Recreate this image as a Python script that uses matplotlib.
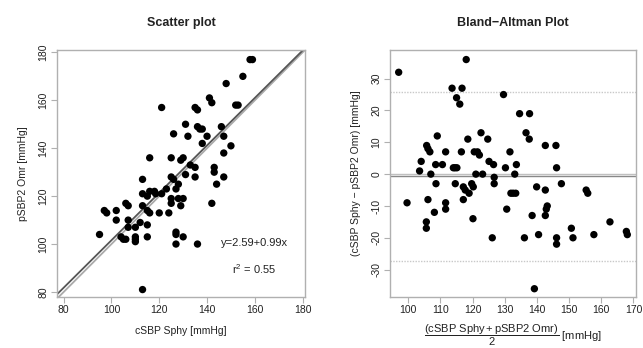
import matplotlib
matplotlib.use("Agg")
import matplotlib.pyplot as plt

plt.rcParams['font.family'] = ['Liberation Sans', 'DejaVu Sans']
plt.rcParams['mathtext.fontset'] = 'custom'
plt.rcParams['mathtext.rm'] = 'Liberation Sans'
plt.rcParams['mathtext.it'] = 'Liberation Sans:italic'
plt.rcParams['axes.unicode_minus'] = False

# ---- Scatter plot data (cSBP Sphy vs pSBP2 Omr) ----
csbp = [158, 159, 155, 148, 141, 142, 121, 135, 136, 152, 153, 131, 136, 137, 138, 146,
        126, 132, 140, 147, 138, 150, 147, 116, 125, 129, 130, 133, 135, 143, 143, 125,
        126, 135, 147, 113, 131, 128, 127, 144, 123, 113, 115, 116, 118, 118.5, 121,
        125, 125, 128, 130, 129, 142, 113, 97, 98, 102, 106, 107, 115, 116, 120, 124,
        102, 107, 107, 110, 112, 115, 95, 104, 105, 106, 110, 110, 110, 115, 127, 127,
        127, 130, 136, 113]
psbp = [177, 177, 170, 167, 161, 159, 157, 157, 156, 158, 158, 150, 149, 148, 148, 149,
        146, 145, 145, 145, 142, 141, 138, 136, 136, 135, 136, 133, 132, 132, 130, 128,
        127, 128, 128, 127, 129, 125, 123, 125, 123, 121, 120, 122, 122, 121, 121,
        119, 117, 119, 119, 116, 117, 116, 114, 113, 114, 117, 116, 114, 113, 113, 113,
        110, 110, 107, 107, 109, 108, 104, 103, 102, 102, 103, 102, 101, 103, 105, 104,
        100, 103, 100, 81]
reg_intercept = 2.59
reg_slope = 0.99

# ---- Bland-Altman data ----
ba_mean = [97, 118, 113.6, 116.7, 115, 116, 129.6, 134.6, 137.7, 136.6, 137.6, 122.6,
           118.5, 124.7, 109, 142.6, 145.9, 105.7, 106.1, 106.7, 111.6, 116.5, 120.5,
           121.5, 122.1, 131.6, 104, 125.1, 126.5, 133.6, 108.5, 110.6, 114, 114.5,
           115.1, 130.2, 146.1, 103.5, 107, 121, 123.1, 133.1, 126.7, 108.6, 114.6,
           119.7, 120.2, 117.1, 117.7, 126.7, 147.6, 139.9, 118.9, 131.9, 132.6, 133.4,
           142.6, 155.3, 155.8, 106.1, 117.1, 99.6, 111.6, 111.6, 143.2, 142.9, 130.6,
           108.1, 138.5, 142.6, 120.1, 105.6, 105.6, 162.7, 150.7, 167.8, 168.1, 140.5,
           157.7, 126.1, 136.1, 146.1, 146.1, 151.2, 139.2]
ba_diff = [32, 36, 27, 27, 24, 22, 25, 19, 19, 13, 11, 13,
           11, 11, 12, 9, 9, 9, 8, 7, 7, 7, 7,
           7, 6, 7, 4, 4, 3, 3, 3, 3, 2, 2,
           2, 2, 2, 1, 0, 0, 0, 0, -1, -3, -3,
           -3, -4, -4, -5, -3, -3, -4, -6, -6, -6, -6,
           -5, -5, -6, -8, -8, -9, -9, -11, -10, -11, -11,
           -12, -13, -13, -14, -15, -17, -15, -17, -18, -19, -19,
           -19, -20, -20, -20, -22, -20, -36]
ba_upper = 25.9
ba_lower = -27.4
ba_bias = -0.6

W, H = 643, 348
fig = plt.figure(figsize=(W / 100, H / 100), dpi=100)

def axrect(x0, y0, x1, y1):
    return [x0 / W, 1 - y1 / H, (x1 - x0) / W, (y1 - y0) / H]

spine_c = '#b0b0b0'
text_c = '#222222'

def style(ax):
    for s in ax.spines.values():
        s.set_color(spine_c)
        s.set_linewidth(1.0)
    ax.tick_params(colors=spine_c, labelcolor=text_c, labelsize=7.5, length=4, width=0.8, pad=2)
    for lab in ax.get_yticklabels():
        lab.set_rotation(90)
        lab.set_va('center')

# ---- Left: scatter ----
ax1 = fig.add_axes(axrect(57, 50, 305, 297))
ax1.set_xlim(77.2, 181)
ax1.set_ylim(77.9, 181)
ax1.plot([77.2, 181], [77.2, 181], color='#aaaaaa', lw=1.3, zorder=1)
xs = [77.2, 181]
ax1.plot(xs, [reg_intercept + reg_slope * v for v in xs], color='#555555', lw=1.3, zorder=2)
ax1.scatter(csbp, psbp, s=28, color='black', edgecolors='none', zorder=3)
ax1.set_xticks([80, 100, 120, 140, 160, 180])
ax1.set_yticks([80, 100, 120, 140, 160, 180])
style(ax1)
ax1.set_title('Scatter plot', fontsize=9, fontweight='bold', color=text_c, pad=17)
ax1.set_xlabel('cSBP Sphy [mmHg]', fontsize=7.5, color=text_c, labelpad=8)
ax1.set_ylabel('pSBP2 Omr [mmHg]', fontsize=7.5, color=text_c, labelpad=8)
ax1.text(159.7, 100.4, 'y=2.59+0.99x', fontsize=8, color=text_c, ha='center', va='center')
ax1.text(159.7, 89.5, r'r$^2$ = 0.55', fontsize=8, color=text_c, ha='center', va='center')

# ---- Right: Bland-Altman ----
ax2 = fig.add_axes(axrect(390, 50, 636, 297))
ax2.set_xlim(94.3, 170.8)
ax2.set_ylim(-38.6, 39)
ax2.axhline(ba_upper, color='#c8c8c8', lw=1.0, ls=(0, (1, 1)), zorder=1)
ax2.axhline(ba_lower, color='#c8c8c8', lw=1.0, ls=(0, (1, 1)), zorder=1)
ax2.axhline(0, color='#c0c0c0', lw=1.0, zorder=1)
ax2.axhline(ba_bias, color='#888888', lw=1.0, zorder=1)
ax2.scatter(ba_mean, ba_diff, s=28, color='black', edgecolors='none', zorder=3)
ax2.set_xticks(list(range(100, 171, 10)))
ax2.set_yticks([-30, -20, -10, 0, 10, 20, 30])
style(ax2)
ax2.set_title('Bland\u2212Altman Plot', fontsize=9, fontweight='bold', color=text_c, pad=17)
ax2.set_ylabel('(cSBP Sphy \u2212 pSBP2 Omr) [mmHg]', fontsize=7.5, color=text_c, labelpad=8)
ax2.text(0.5, -0.155,
         r'$\dfrac{\mathrm{(cSBP\ Sphy + pSBP2\ Omr)}}{\mathrm{2}}$ [mmHg]',
         transform=ax2.transAxes, ha='center', va='center', fontsize=8, color=text_c)

fig.savefig('out.png', dpi=100)
